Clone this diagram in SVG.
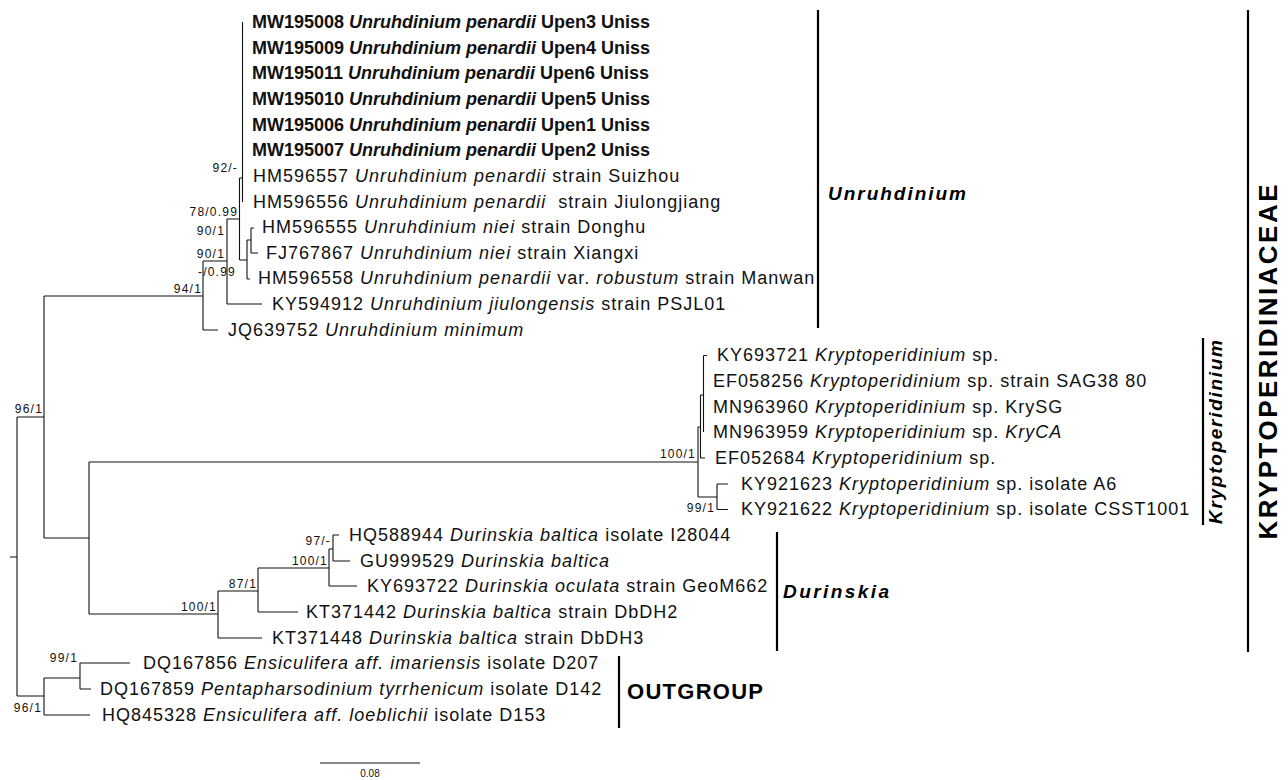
<svg xmlns="http://www.w3.org/2000/svg" width="1288" height="780" viewBox="0 0 1288 780">
<style>
.t{font-family:"Liberation Sans",Arial,Helvetica,sans-serif;font-size:18px;letter-spacing:1px;fill:#111}
.b{font-weight:bold;letter-spacing:0}
.i{font-style:italic}
.s{font-family:"Liberation Sans",Arial,sans-serif;font-size:12px;letter-spacing:1.2px;fill:#111}
.e{text-anchor:end}
.c{font-family:"Liberation Sans",Arial,sans-serif;font-weight:bold;fill:#000}
.tree{fill:none;stroke:#111;stroke-width:1.1}
.bar{stroke:#000;stroke-width:2.2}
</style>
<rect width="1288" height="780" fill="#fff"/>
<g id="connectors">
<path class="tree" d="M10 557H17M17 417V696M17 417H44M44 296V538M44 296H203M203 261V330M203 261H227M203 330H218M227 219V304M227 304H262M227 219H239.5M239.5 178V260M239.5 178H242.5M242.5 22V202M239.5 260H247M247 240V279M247 279H250M247 240H251M251 228V253M251 228H254M251 253H258M44 538H89M89 462V614M89 462H698M698 427V497M698 427H700.5M700.5 395V458M700.5 458H705M700.5 395H703.5M703.5 355.5V432M703.5 355.5H707M698 497H717M717 484V509.5M717 484H728M717 509.5H728M89 614H218M218 591V638M218 638H262M218 591H258M258 568V612M258 612H298M258 568H329M329 549V586M329 586H357M329 549H333M333 535V561M333 535H339M333 561H350M17 696H44M44 678V715M44 715H90M44 678H80M80 663V689M80 663H130M80 689H91"/>
</g>
<g id="support">
<text class="s e" x="238" y="172">92/-</text>
<text class="s e" x="238" y="216">78/0.99</text>
<text class="s e" x="225" y="235">90/1</text>
<text class="s e" x="225" y="258">90/1</text>
<text class="s" x="198" y="276">-/0.99</text>
<text class="s e" x="202" y="293">94/1</text>
<text class="s e" x="43" y="413">96/1</text>
<text class="s e" x="696" y="458">100/1</text>
<text class="s e" x="715" y="512">99/1</text>
<text class="s e" x="331" y="545">97/-</text>
<text class="s e" x="328" y="565">100/1</text>
<text class="s e" x="257" y="588">87/1</text>
<text class="s e" x="217" y="611">100/1</text>
<text class="s e" x="78" y="662">99/1</text>
<text class="s e" x="42" y="712">96/1</text>
</g>
<g id="n-MW195008"><text class="t b" x="252" y="28">MW195008 <tspan class="i">Unruhdinium penardii</tspan> Upen3 Uniss</text></g>
<g id="n-MW195009"><text class="t b" x="252" y="54">MW195009 <tspan class="i">Unruhdinium penardii</tspan> Upen4 Uniss</text></g>
<g id="n-MW195011"><text class="t b" x="252" y="79">MW195011 <tspan class="i">Unruhdinium penardii</tspan> Upen6 Uniss</text></g>
<g id="n-MW195010"><text class="t b" x="252" y="105">MW195010 <tspan class="i">Unruhdinium penardii</tspan> Upen5 Uniss</text></g>
<g id="n-MW195006"><text class="t b" x="252" y="131">MW195006 <tspan class="i">Unruhdinium penardii</tspan> Upen1 Uniss</text></g>
<g id="n-MW195007"><text class="t b" x="252" y="156">MW195007 <tspan class="i">Unruhdinium penardii</tspan> Upen2 Uniss</text></g>
<g id="n-HM596557"><text class="t" x="253" y="182">HM596557 <tspan class="i">Unruhdinium penardii</tspan> strain Suizhou</text></g>
<g id="n-HM596556"><text class="t" x="253" y="208">HM596556 <tspan class="i">Unruhdinium penardii</tspan>&#160; strain Jiulongjiang</text></g>
<g id="n-HM596555"><text class="t" x="262" y="233">HM596555 <tspan class="i">Unruhdinium niei</tspan> strain Donghu</text></g>
<g id="n-FJ767867"><text class="t" x="266" y="259">FJ767867 <tspan class="i">Unruhdinium niei</tspan> strain Xiangxi</text></g>
<g id="n-HM596558"><text class="t" x="258" y="284">HM596558 <tspan class="i">Unruhdinium penardii</tspan> var. <tspan class="i">robustum</tspan> strain Manwan</text></g>
<g id="n-KY594912"><text class="t" x="272" y="310">KY594912 <tspan class="i">Unruhdinium jiulongensis</tspan> strain PSJL01</text></g>
<g id="n-JQ639752"><text class="t" x="228" y="336">JQ639752 <tspan class="i">Unruhdinium minimum</tspan></text></g>
<g id="n-KY693721"><text class="t" x="717" y="361">KY693721 <tspan class="i">Kryptoperidinium</tspan> sp.</text></g>
<g id="n-EF058256"><text class="t" x="713" y="387">EF058256 <tspan class="i">Kryptoperidinium</tspan> sp. strain SAG38 80</text></g>
<g id="n-MN963960"><text class="t" x="713" y="413">MN963960 <tspan class="i">Kryptoperidinium</tspan> sp. KrySG</text></g>
<g id="n-MN963959"><text class="t" x="713" y="438">MN963959 <tspan class="i">Kryptoperidinium</tspan> sp. <tspan class="i">KryCA</tspan></text></g>
<g id="n-EF052684"><text class="t" x="715" y="464">EF052684 <tspan class="i">Kryptoperidinium</tspan> sp.</text></g>
<g id="n-KY921623"><text class="t" x="741" y="490">KY921623 <tspan class="i">Kryptoperidinium</tspan> sp. isolate A6</text></g>
<g id="n-KY921622"><text class="t" x="741" y="515">KY921622 <tspan class="i">Kryptoperidinium</tspan> sp. isolate CSST1001</text></g>
<g id="n-HQ588944"><text class="t" x="349" y="541">HQ588944 <tspan class="i">Durinskia baltica</tspan> isolate I28044</text></g>
<g id="n-GU999529"><text class="t" x="360" y="567">GU999529 <tspan class="i">Durinskia baltica</tspan></text></g>
<g id="n-KY693722"><text class="t" x="367" y="592">KY693722 <tspan class="i">Durinskia oculata</tspan> strain GeoM662</text></g>
<g id="n-KT371442"><text class="t" x="306" y="618">KT371442 <tspan class="i">Durinskia baltica</tspan> strain DbDH2</text></g>
<g id="n-KT371448"><text class="t" x="272" y="644">KT371448 <tspan class="i">Durinskia baltica</tspan> strain DbDH3</text></g>
<g id="n-DQ167856"><text class="t" x="143" y="669">DQ167856 <tspan class="i">Ensiculifera aff. imariensis</tspan> isolate D207</text></g>
<g id="n-DQ167859"><text class="t" x="100" y="695">DQ167859 <tspan class="i">Pentapharsodinium tyrrhenicum</tspan> isolate D142</text></g>
<g id="n-HQ845328"><text class="t" x="102" y="721">HQ845328 <tspan class="i">Ensiculifera aff. loeblichii</tspan> isolate D153</text></g>
<g id="clade-Unruhdinium">
<line class="bar" x1="818" y1="10" x2="818" y2="328"/>
<text class="c i" x="828" y="200" font-size="19" textLength="138" lengthAdjust="spacing">Unruhdinium</text>
</g>
<g id="clade-Kryptoperidinium">
<line class="bar" x1="1203" y1="338" x2="1203" y2="525"/>
<text class="c i" font-size="19" text-anchor="middle" transform="translate(1222 432) rotate(-90)" textLength="184" lengthAdjust="spacing">Kryptoperidinium</text>
</g>
<g id="clade-Durinskia">
<line class="bar" x1="777" y1="532" x2="777" y2="651"/>
<text class="c i" x="783" y="598" font-size="19" textLength="106" lengthAdjust="spacing">Durinskia</text>
</g>
<g id="clade-Outgroup">
<line class="bar" x1="619" y1="656" x2="619" y2="728"/>
<text class="c" x="627" y="699" font-size="22" textLength="136" lengthAdjust="spacing">OUTGROUP</text>
</g>
<g id="clade-Kryptoperidiniaceae">
<line class="bar" x1="1248" y1="10" x2="1248" y2="652"/>
<text class="c" font-size="26" text-anchor="middle" transform="translate(1277 362) rotate(-90)" textLength="355" lengthAdjust="spacing">KRYPTOPERIDINIACEAE</text>
</g>
<g id="scale">
<line x1="320" y1="763" x2="420" y2="763" stroke="#111" stroke-width="1.1"/>
<text x="370" y="777" font-family="Liberation Sans,Arial,sans-serif" font-size="10" text-anchor="middle" fill="#111">0.08</text>
</g>
</svg>
